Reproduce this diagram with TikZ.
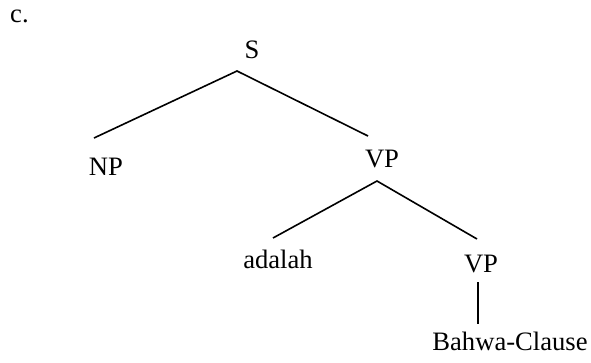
\documentclass[tikz,border=0pt]{standalone}
\usepackage{fontspec}
\setmainfont{Liberation Serif}
\begin{document}
\begin{tikzpicture}[x=1pt,y=-1pt,
  lbl/.style={anchor=base,inner sep=0pt,font=\fontsize{26.6}{30}\selectfont},
  branch/.style={line width=1.6pt}]
\useasboundingbox (0,0) rectangle (591,362);
% labels
\node[lbl,anchor=base west] (ex) at (10,22) {c.};
\node[lbl] (s) at (252,58) {S};
\node[lbl] (np) at (106,175) {NP};
\node[lbl] (vp1) at (382,167) {VP};
\node[lbl] (adalah) at (278,268) {adalah};
\node[lbl] (vp2) at (481,272) {VP};
\node[lbl] (bahwa) at (510,350) {Bahwa-Clause};
% branch end points
\coordinate (s-foot) at (237,71);
\coordinate (np-top) at (94,138);
\coordinate (vp1-top) at (368,136);
\coordinate (vp1-foot) at (377,181);
\coordinate (adalah-top) at (273,238);
\coordinate (vp2-top) at (477,239);
\coordinate (vp2-foot) at (478,282);
\coordinate (bahwa-top) at (478,324);
% branches
\draw[branch] (np-top) -- (s-foot) -- (vp1-top);
\draw[branch] (adalah-top) -- (vp1-foot) -- (vp2-top);
\draw[branch] (vp2-foot) -- (bahwa-top);
\end{tikzpicture}
\end{document}
